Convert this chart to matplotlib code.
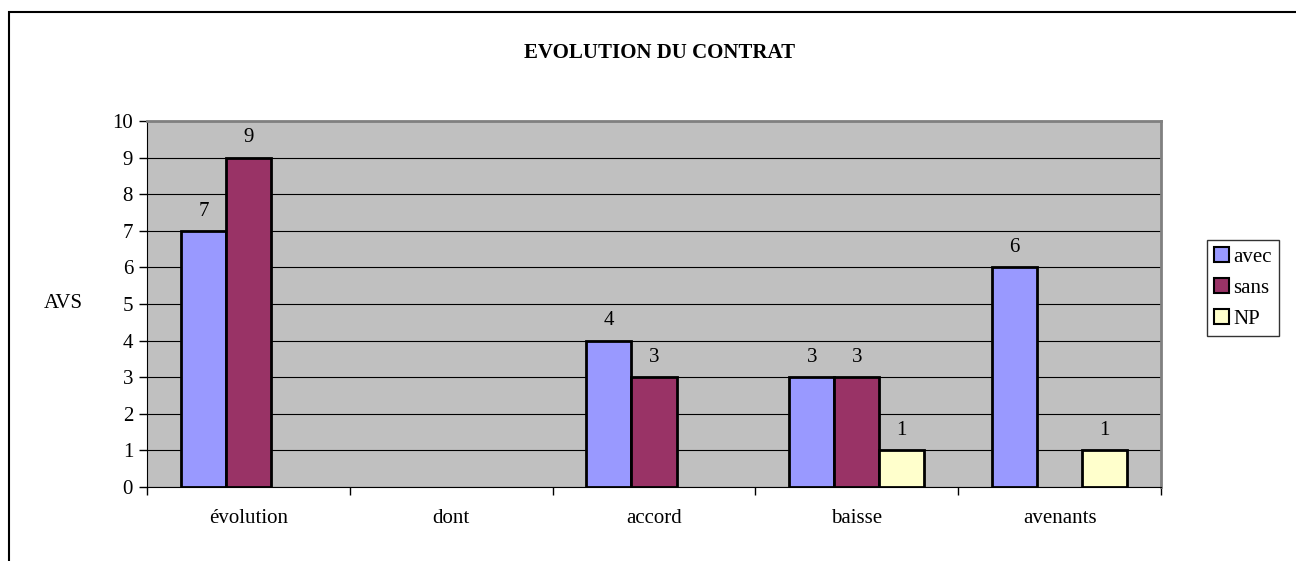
import matplotlib
matplotlib.use('Agg')
import matplotlib.pyplot as plt
import numpy as np
from matplotlib.patches import Rectangle

categories = ['évolution', 'dont', 'accord', 'baisse', 'avenants']
avec = [7, 0, 4, 3, 6]
sans = [9, 0, 3, 3, 0]
np_vals = [0, 0, 0, 1, 1]
series_names = ['avec', 'sans', 'NP']
yticks = list(range(0, 11))

colors = ['#9999FF', '#993366', '#FFFFCC']

plt.rcParams['font.family'] = ['Liberation Serif', 'DejaVu Serif']

W, H = 1296, 561
fig = plt.figure(figsize=(W / 100, H / 100), dpi=100)

# outer chart border (runs off right and bottom)
fig.patches.append(Rectangle((9 / W, -0.1), 1.2, (H - 12) / H + 0.1,
                             transform=fig.transFigure, fill=False,
                             edgecolor='black', linewidth=1.5))

ax = fig.add_axes([147 / W, 1 - 487 / H, (1161 - 147) / W, (487 - 121) / H])
ax.set_facecolor('#C0C0C0')

fs = 15
x = np.arange(len(categories))
bw = 0.222
for i, (vals, c) in enumerate(zip([avec, sans, np_vals], colors)):
    pos = x + (i - 1) * bw
    for p, v in zip(pos, vals):
        if v > 0:
            ax.bar(p, v, width=bw, color=c, edgecolor='black', linewidth=2, zorder=3)
            ax.text(p, v + 0.28, str(v), ha='center', va='bottom', fontsize=fs, zorder=4)

ax.set_xlim(-0.5, len(categories) - 0.5)
ax.set_ylim(0, 10)
ax.set_yticks(yticks)
ax.set_yticklabels([str(t) for t in yticks], fontsize=fs)
ax.set_xticks(np.arange(len(categories) + 1) - 0.5)
ax.set_xticklabels([])
ax.set_xticks(x, minor=True)
ax.set_xticklabels(categories, minor=True, fontsize=fs)
ax.tick_params(axis='x', which='minor', length=0, pad=16)
ax.tick_params(axis='x', which='major', length=6, direction='out', width=1)
ax.tick_params(axis='y', length=6, direction='out', width=1, pad=4)
ax.grid(axis='y', color='black', linewidth=0.8, zorder=1)

for s in ['top', 'right']:
    ax.spines[s].set_color('#808080')
    ax.spines[s].set_linewidth(2)
ax.spines['left'].set_color('black')
ax.spines['bottom'].set_color('black')

fig.text(63 / W, 1 - 304 / H, 'AVS', ha='center', va='center', fontsize=fs)
fig.text(660 / W, 1 - 53 / H, 'EVOLUTION DU CONTRAT', ha='center', va='center',
         fontsize=15, fontweight='bold')

handles = [Rectangle((0, 0), 1, 1, facecolor=c, edgecolor='black', linewidth=1.5) for c in colors]
leg = fig.legend(handles, series_names, loc='center', bbox_to_anchor=(1243 / W, 1 - 288 / H),
                 fontsize=fs, frameon=True, fancybox=False, edgecolor='black',
                 handlelength=0.7, handleheight=0.7, handletextpad=0.2,
                 borderpad=0.35, labelspacing=0.55, borderaxespad=0)
leg.get_frame().set_linewidth(1)

fig.savefig('out.png', dpi=100)
